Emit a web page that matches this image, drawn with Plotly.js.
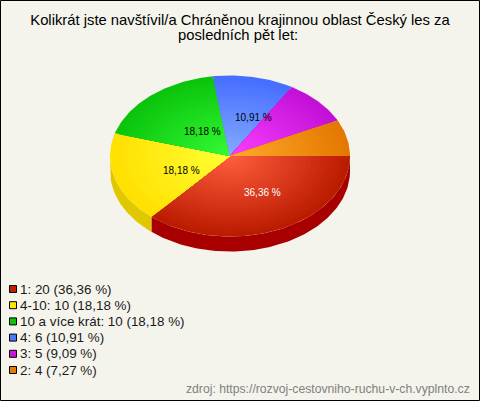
<!DOCTYPE html>
<html><head><meta charset="utf-8">
<script src="https://cdn.plot.ly/plotly-3.0.1.min.js"></script>
<style>html,body{margin:0;padding:0;background:#f4f4ec}#c{width:480px;height:401px}</style>
</head><body><div id="c"></div>
<script>
const titleLine1 = "Kolikrát jste navštívil/a Chráněnou krajinnou oblast Český les za";
const titleLine2 = "posledních pět let:";
const source = "zdroj: https://rozvoj-cestovniho-ruchu-v-ch.vyplnto.cz";
const categories = ["1", "4-10", "10 a více krát", "4", "3", "2"];
const values = [20, 10, 10, 6, 5, 4];
const innerColors = [[255,92,62],[255,255,52],[52,250,52],[132,170,255],[250,62,255],[255,170,42]];
const outerColors = [[186,28,0],[255,224,0],[10,196,12],[70,110,255],[195,16,215],[228,120,0]];
const sideColors = ["#a80000","#e0c800","#0a9a0a","#3a5acc","#a010b0","#b86000"];
const swatchColors = ["#c02000","#ffe800","#10c010","#4a78ff","#c818d8","#e87c00"];
const labelColors = ["#ffffff","#000000","#000000","#000000",null,null];
const labelAt = [[262,192],[181,170],[202,131],[253,117],null,null];

const cx=230, cy=156, rx=120, ry=80.5, depth=15, layers=28;
const total = values.reduce((a,b)=>a+b,0);
const pctText = v => (100*v/total).toFixed(2).replace(".",",")+" %";
const traces = [];
function arc(a0,a1,s,dy){
  const n=Math.max(2,Math.ceil(Math.abs(a1-a0)/0.02)),xs=[],ys=[];
  for(let i=0;i<=n;i++){const a=a0+(a1-a0)*i/n;xs.push(cx+s*rx*Math.cos(a));ys.push(cy+dy+s*ry*Math.sin(a));}
  return [xs,ys];
}
function poly(xs,ys,color){
  traces.push({type:"scatter",mode:"lines",x:xs,y:ys,fill:"toself",fillcolor:color,
    line:{width:0,color:color},hoverinfo:"skip",showlegend:false});
}
let start=0; const angles=values.map(v=>{const a=[start,start+2*Math.PI*v/total];start=a[1];return a;});
angles.forEach((a,i)=>{
  const a0=a[0],a1=Math.min(a[1],Math.PI);
  if(a0>=Math.PI) return;
  const top=arc(a0,a1,1,0),bot=arc(a1,a0,1,depth);
  poly(top[0].concat(bot[0]),top[1].concat(bot[1]),sideColors[i]);
});
angles.forEach((a,i)=>{
  for(let k=0;k<layers;k++){
    const s=1-k/layers,t=k/(layers-1);
    const c=outerColors[i].map((o,j)=>Math.round(o+(innerColors[i][j]-o)*t));
    const p=arc(a[0],a[1],s,0);
    poly([cx].concat(p[0],[cx]),[cy].concat(p[1],[cy]),`rgb(${c.join(",")})`);
  }
});
const font="Liberation Sans, Arial, sans-serif";
const annotations=[];
const txt=(x,y,text,size,color,anchor)=>annotations.push({xref:"x",yref:"y",x,y,text,showarrow:false,
  xanchor:anchor||"center",yanchor:"middle",font:{family:font,size,color},borderpad:0,borderwidth:0});
labelAt.forEach((p,i)=>{if(p) txt(p[0],p[1],pctText(values[i]),10,labelColors[i]);});
const shapes=[{type:"rect",xref:"x",yref:"y",x0:0.5,y0:0.5,x1:479.5,y1:400.5,line:{color:"#000",width:1},fillcolor:"rgba(0,0,0,0)"}];
categories.forEach((c,i)=>{
  const y=289+i*16.2;
  shapes.push({type:"rect",xref:"x",yref:"y",x0:9.5,x1:16.5,y0:y-3.5,y1:y+3.5,fillcolor:swatchColors[i],line:{color:"#000",width:1}});
  txt(20,y,`${c}: ${values[i]} (${pctText(values[i])})`,13.4,"#1a1a1a","left");
});
txt(237.5,35,titleLine2,14.8,"#000");
txt(470,389,source,12.2,"#808080","right");
Plotly.newPlot("c",traces,{
  width:480,height:401,margin:{l:0,r:0,t:0,b:0},showlegend:false,hovermode:false,
  paper_bgcolor:"#f4f4ec",plot_bgcolor:"#f4f4ec",
  title:{text:titleLine1,x:0.5,xanchor:"center",xref:"paper",y:1-20/401,yref:"container",yanchor:"middle",font:{family:font,size:14.8,color:"#000"},automargin:false},
  xaxis:{range:[0,480],visible:false,fixedrange:true},
  yaxis:{range:[401,0],visible:false,fixedrange:true},
  shapes,annotations
},{displayModeBar:false,staticPlot:true});
</script></body></html>
